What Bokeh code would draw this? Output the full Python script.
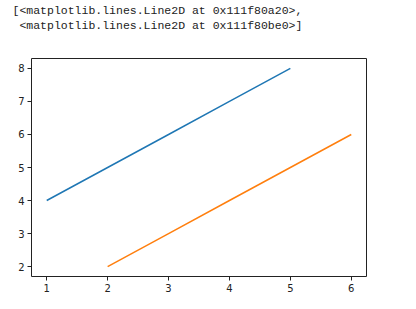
from bokeh.plotting import figure
from bokeh.models import Title, FixedTicker, Range1d
from bokeh.embed import file_html
from bokeh.resources import INLINE

x1 = [1, 2, 3, 4, 5]
y1 = [4, 5, 6, 7, 8]
x2 = [2, 3, 4, 5, 6]
y2 = [2, 3, 4, 5, 6]
x_ticks = [1, 2, 3, 4, 5, 6]
y_ticks = [2, 3, 4, 5, 6, 7, 8]
repr_lines = ["[<matplotlib.lines.Line2D at 0x111f80a20>,",
              "\u00a0<matplotlib.lines.Line2D at 0x111f80be0>]"]

p = figure(frame_width=335, frame_height=218,
           min_border_left=31, min_border_right=50,
           min_border_top=58, min_border_bottom=33,
           output_backend="svg", toolbar_location=None,
           x_range=Range1d(0.75, 6.25), y_range=Range1d(1.7, 8.3))
p.background_fill_color = "white"
p.border_fill_color = "white"
p.outline_line_color = "#222222"
p.outline_line_width = 1
p.grid.visible = False

p.line(x1, y1, line_color="#1f77b4", line_width=1.5)
p.line(x2, y2, line_color="#ff7f0e", line_width=1.5)

for ax in (p.xaxis[0], p.yaxis[0]):
    ax.axis_line_color = None
    ax.major_tick_in = 0
    ax.major_tick_out = 4
    ax.major_tick_line_color = "#222222"
    ax.minor_tick_line_color = None
    ax.major_label_text_font = "DejaVu Sans"
    ax.major_label_text_font_size = "10px"
    ax.major_label_text_color = "#222222"
    ax.major_label_standoff = 3
p.xaxis[0].ticker = FixedTicker(ticks=x_ticks)
p.yaxis[0].ticker = FixedTicker(ticks=y_ticks)

# spacer between the printed text and the axes frame
p.add_layout(Title(text="\u00a0", text_font_size="22px", standoff=0), "above")
# first added title sits closest to the frame, so add the last line first
for t in reversed(repr_lines):
    p.add_layout(Title(text=t, text_font="Liberation Mono", text_font_size="11.5px",
                       text_font_style="normal", text_color="#222222",
                       align="left", offset=-19, standoff=0), "above")

open("out.html", "w").write(file_html(p, INLINE))
